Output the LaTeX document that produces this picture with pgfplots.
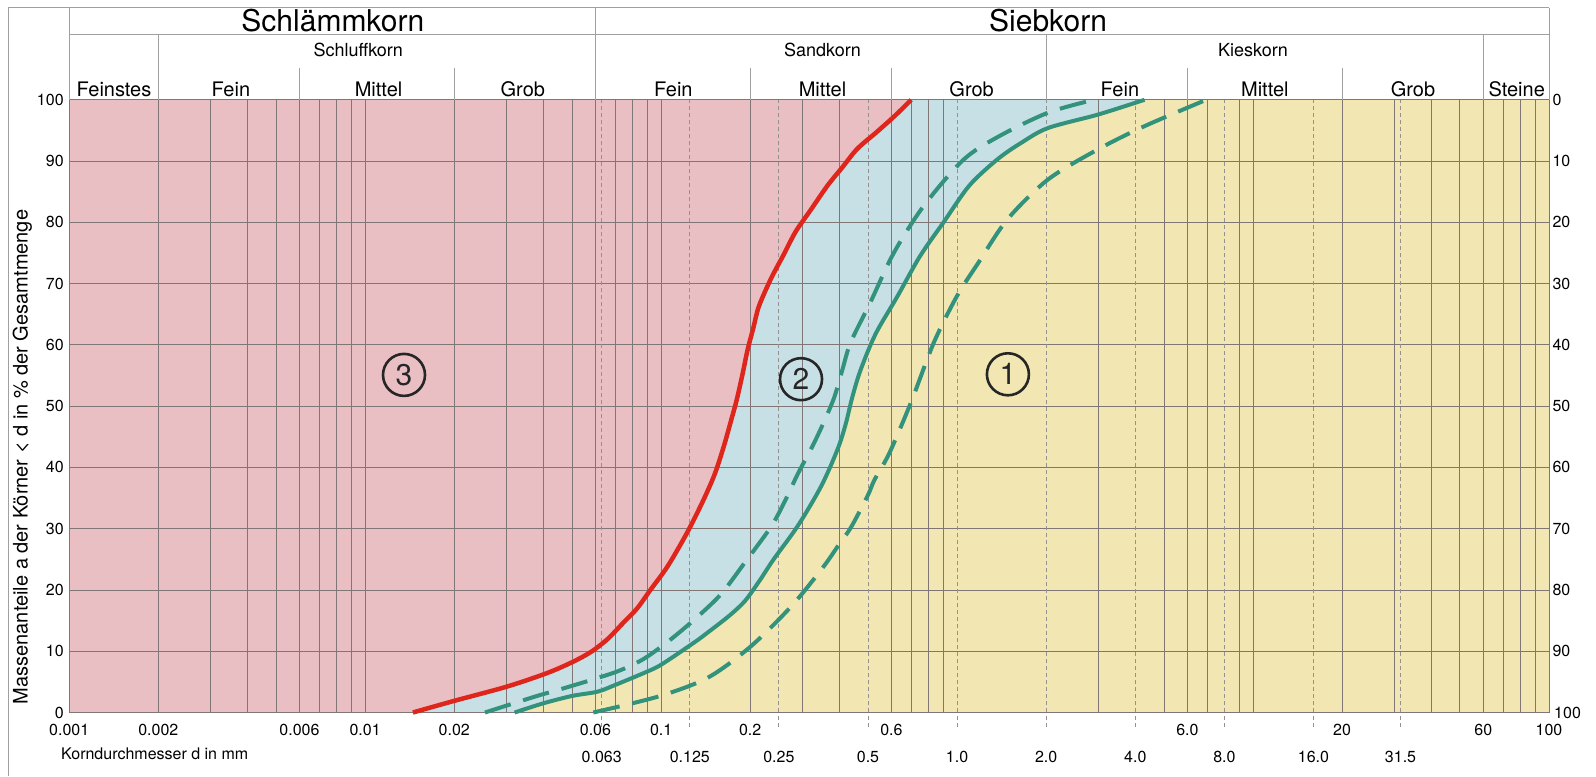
\documentclass[border=0pt]{standalone}
\usepackage{fontspec}
\setmainfont{TeX Gyre Heros}
\usepackage{pgfplots}
\usepackage{pgfplotstable}
\pgfplotsset{compat=1.18}
\definecolor{pinkf}{RGB}{233,191,195}
\definecolor{bluef}{RGB}{199,224,230}
\definecolor{yellowf}{RGB}{242,231,178}
\definecolor{redc}{RGB}{222,38,28}
\definecolor{greenc}{RGB}{50,146,124}
\definecolor{gridc}{RGB}{128,118,118}
\definecolor{dashc}{RGB}{150,145,145}
\definecolor{txt}{RGB}{55,55,55}
\definecolor{framec}{RGB}{160,160,160}

\pgfplotstableread{
d v
0.0145 0
0.020 1.9
0.030 4.2
0.041 6.4
0.050 8.2
0.058 9.9
0.066 12.0
0.074 14.5
0.083 17
0.092 20
0.104 23.5
0.115 27
0.126 30.5
0.140 35
0.152 39
0.163 43.5
0.172 47.5
0.180 51
0.188 55
0.196 59.2
0.205 62.8
0.214 66.3
0.235 70.8
0.26 74.8
0.285 78.5
0.32 82
0.365 86
0.41 89
0.46 92
0.537 94.8
0.62 97.5
0.70 100
}\rtab

\pgfplotstableread{
d v
0.032 0
0.040 1.5
0.050 2.7
0.061 3.4
0.070 4.5
0.088 6.5
0.100 7.8
0.130 11.5
0.145 13.2
0.170 15.8
0.192 18.2
0.215 21.5
0.240 25
0.290 30.5
0.348 37
0.395 43
0.420 47
0.440 51
0.465 55
0.500 59
0.540 62.5
0.630 68
0.75 74.5
0.90 80
1.10 86
1.37 90.3
1.65 93
2.03 95.4
3.0 97.6
4.3 100
}\gtab

\pgfplotstableread{
d v
0.0254 0
0.0375 2.6
0.045 3.7
0.058 5.3
0.072 6.8
0.087 8.7
0.105 11.5
0.127 14.8
0.150 18
0.165 20.2
0.192 24.5
0.235 30.3
0.262 34.5
0.290 39
0.325 43.5
0.357 47.7
0.385 51.5
0.41 56
0.437 60.4
0.51 67
0.611 75
0.772 82.7
1.05 90.2
1.38 94
2.03 97.9
2.9 100
}\dltab

\pgfplotstableread{
d v
0.059 0
0.0977 2.6
0.144 5.7
0.201 10.8
0.275 17.3
0.350 23.5
0.395 27.1
0.439 30.3
0.50 35.5
0.525 37.9
0.590 42.3
0.697 50.5
0.835 60.4
1.0 68
1.18 73.4
1.48 80.5
2.03 87
2.99 91.9
4.3 95.7
6.95 100
}\drtab

\begin{document}
\begin{tikzpicture}[font=\color{txt}]
\path (0,0) rectangle (1596pt,776pt);
\draw[framec, line width=1pt] (8pt,0) -- (8pt,768pt) -- (69.2pt,768pt);
\begin{axis}[
  at={(69.2pt,63.5pt)}, anchor=south west,
  scale only axis, width=1479.8pt, height=612.7pt,
  xmode=log, xmin=0.001, xmax=100, ymin=0, ymax=100,
  set layers, clip=false,
  axis line style={gridc, line width=1pt},
  xtick={0.001,0.002,0.006,0.01,0.02,0.06,0.1,0.2,0.6,6,20,60,100},
  xticklabels={0.001,0.002,0.006,0.01,0.02,0.06,0.1,0.2,0.6,6.0,20,60,100},
  minor xtick={0.002,0.003,0.004,0.005,0.006,0.007,0.008,0.009,0.01,0.02,0.03,0.04,0.05,0.06,0.07,0.08,0.09,0.1,0.2,0.3,0.4,0.6,0.7,0.8,0.9,3,5,6,7,9,10,20,30,40,50,60,70,80,90},
  xminorgrids=true, xmajorgrids=false,
  ytick={0,10,...,100}, ymajorgrids=true,
  minor grid style={gridc, line width=0.9pt},
  major grid style={gridc, line width=0.9pt},
  major tick length=0pt, minor tick length=0pt,
  tick pos=left,
  xticklabel style={anchor=base, yshift=-23.5pt, inner sep=1pt, font=\fontsize{16}{18}\selectfont},
  yticklabel style={xshift=-2pt, font=\fontsize{16}{18}\selectfont},
  /pgf/number format/assume math mode=true,
  extra x ticks={0.063,0.125,0.25,0.5,1,2,4,8,16,31.5},
  extra x tick labels={0.063,0.125,0.25,0.5,1.0,2.0,4.0,8.0,16.0,31.5},
  extra x tick style={xmajorgrids=true,
     major grid style={dashc, line width=0.9pt, dash pattern=on 4pt off 3pt},
     major tick length=14pt, tick align=outside,
     tick style={dashc, line width=0.9pt, dash pattern=on 4pt off 3pt},
     xticklabel style={yshift=-12.5pt}},
]
% background regions
\addplot[on layer=axis background, fill=yellowf, draw=none] coordinates {(0.001,0) (100,0) (100,100) (0.001,100)} -- cycle;
\addplot[on layer=axis background, fill=bluef, draw=none, smooth] table {\gtab} -- (axis cs:0.001,100) -- (axis cs:0.001,0) -- cycle;
\addplot[on layer=axis background, fill=pinkf, draw=none, smooth] table {\rtab} -- (axis cs:0.001,100) -- (axis cs:0.001,0) -- cycle;
% curves
\addplot[redc, line width=4.5pt, smooth] table {\rtab};
\addplot[greenc, line width=4pt, smooth] table {\gtab};
\addplot[greenc, line width=4pt, smooth, dash pattern=on 27pt off 13pt] table {\dltab};
\addplot[greenc, line width=4pt, smooth, dash pattern=on 27pt off 13pt] table {\drtab};
% header
\draw[framec, line width=1pt] (axis cs:0.001,115) -- (axis cs:100,115);
\draw[framec, line width=1pt] (axis cs:0.001,110.6) -- (axis cs:100,110.6);
\draw[framec, line width=1pt] (axis cs:0.001,115) -- (axis cs:0.001,100);
\draw[framec, line width=1pt] (axis cs:100,115) -- (axis cs:100,100);
\draw[framec, line width=1pt] (axis cs:0.06,115) -- (axis cs:0.06,100);
\pgfplotsinvokeforeach{0.002,2,60}{\draw[framec, line width=1pt] (axis cs:#1,110.6) -- (axis cs:#1,100);}
\pgfplotsinvokeforeach{0.006,0.02,0.2,0.6,6,20}{\draw[framec, line width=1pt] (axis cs:#1,105.2) -- (axis cs:#1,100);}
\node[anchor=base, inner sep=0pt, font=\fontsize{30}{32}\selectfont] at (axis cs:0.00778,111.1) {Schlämmkorn};
\node[anchor=base, inner sep=0pt, font=\fontsize{30}{32}\selectfont] at (axis cs:2.03,111.1) {Siebkorn};
\node[anchor=base, inner sep=0pt, font=\fontsize{18}{20}\selectfont] at (axis cs:0.00948,107.1) {Schluffkorn};
\node[anchor=base, inner sep=0pt, font=\fontsize{18}{20}\selectfont] at (axis cs:0.351,107.1) {Sandkorn};
\node[anchor=base, inner sep=0pt, font=\fontsize{18}{20}\selectfont] at (axis cs:10,107.1) {Kieskorn};
\node[anchor=base, inner sep=0pt, font=\fontsize{20}{22}\selectfont] at (axis cs:0.001417,100.5) {Feinstes};
\node[anchor=base, inner sep=0pt, font=\fontsize{20}{22}\selectfont] at (axis cs:0.00352,100.5) {Fein};
\node[anchor=base, inner sep=0pt, font=\fontsize{20}{22}\selectfont] at (axis cs:0.0111,100.5) {Mittel};
\node[anchor=base, inner sep=0pt, font=\fontsize{20}{22}\selectfont] at (axis cs:0.0341,100.5) {Grob};
\node[anchor=base, inner sep=0pt, font=\fontsize{20}{22}\selectfont] at (axis cs:0.110,100.5) {Fein};
\node[anchor=base, inner sep=0pt, font=\fontsize{20}{22}\selectfont] at (axis cs:0.351,100.5) {Mittel};
\node[anchor=base, inner sep=0pt, font=\fontsize{20}{22}\selectfont] at (axis cs:1.12,100.5) {Grob};
\node[anchor=base, inner sep=0pt, font=\fontsize{20}{22}\selectfont] at (axis cs:3.55,100.5) {Fein};
\node[anchor=base, inner sep=0pt, font=\fontsize{20}{22}\selectfont] at (axis cs:10.96,100.5) {Mittel};
\node[anchor=base, inner sep=0pt, font=\fontsize{20}{22}\selectfont] at (axis cs:34.7,100.5) {Grob};
\node[anchor=base, inner sep=0pt, font=\fontsize{20}{22}\selectfont] at (axis cs:77.8,100.5) {Steine};
% right-hand reversed scale
\node[anchor=west, font=\fontsize{16}{18}\selectfont] at (axis cs:100,100) {0};
\node[anchor=west, font=\fontsize{16}{18}\selectfont] at (axis cs:100,90) {10};
\node[anchor=west, font=\fontsize{16}{18}\selectfont] at (axis cs:100,80) {20};
\node[anchor=west, font=\fontsize{16}{18}\selectfont] at (axis cs:100,70) {30};
\node[anchor=west, font=\fontsize{16}{18}\selectfont] at (axis cs:100,60) {40};
\node[anchor=west, font=\fontsize{16}{18}\selectfont] at (axis cs:100,50) {50};
\node[anchor=west, font=\fontsize{16}{18}\selectfont] at (axis cs:100,40) {60};
\node[anchor=west, font=\fontsize{16}{18}\selectfont] at (axis cs:100,30) {70};
\node[anchor=west, font=\fontsize{16}{18}\selectfont] at (axis cs:100,20) {80};
\node[anchor=west, font=\fontsize{16}{18}\selectfont] at (axis cs:100,10) {90};
\node[anchor=west, inner sep=1pt, xshift=4pt, font=\fontsize{16}{18}\selectfont] at (axis cs:100,0) {100};
% axis texts
\node[rotate=90, anchor=center, inner sep=0pt, font=\fontsize{20}{22}\selectfont] at (axis cs:0.000695,41.7) {Massenanteile a der Körner < d in \% der Gesamtmenge};
\node[anchor=base west, inner sep=0pt, font=\fontsize{16}{18}\selectfont] at (axis cs:0.000938,-7.75) {Korndurchmesser d in mm};
% region numbers
\node[circle, draw=black!85, line width=2.6pt, minimum size=42pt, inner sep=0pt, font=\fontsize{30}{30}\selectfont, text=black!85] at (axis cs:0.01353,55.1) {3};
\node[circle, draw=black!85, line width=2.6pt, minimum size=42pt, inner sep=0pt, font=\fontsize{30}{30}\selectfont, text=black!85] at (axis cs:0.297,54.4) {2};
\node[circle, draw=black!85, line width=2.6pt, minimum size=42pt, inner sep=0pt, font=\fontsize{30}{30}\selectfont, text=black!85] at (axis cs:1.485,55.2) {1};
\end{axis}
\end{tikzpicture}
\end{document}
